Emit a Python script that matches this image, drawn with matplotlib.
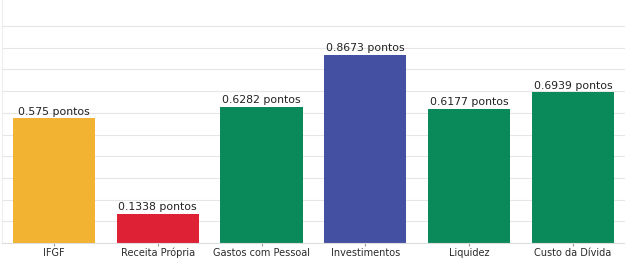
import matplotlib.pyplot as plt

categories = ["IFGF", "Receita Própria", "Gastos com Pessoal", "Investimentos", "Liquidez", "Custo da Dívida"]
values = [0.575, 0.1338, 0.6282, 0.8673, 0.6177, 0.6939]
labels = ["0.575 pontos", "0.1338 pontos", "0.6282 pontos", "0.8673 pontos", "0.6177 pontos", "0.6939 pontos"]
colors = ["#F2B232", "#DE2135", "#0A8A5A", "#4450A2", "#0A8A5A", "#0A8A5A"]

fig = plt.figure(figsize=(6.25, 2.6), dpi=100)
ax = fig.add_axes([0.003, 17 / 260, 0.997, 243 / 260])

x = range(len(categories))
ax.bar(x, values, width=0.79, color=colors, zorder=2)
for i, (v, lab) in enumerate(zip(values, labels)):
    ax.text(i, v + 0.008, lab, ha="center", va="bottom", fontsize=7.8,
            color="#222222", fontweight="medium", zorder=3)

ax.set_xlim(-0.5, len(categories) - 0.5)
ax.set_ylim(0, 1.12)
ax.set_yticks([i / 10 for i in range(1, 11)])
ax.set_yticklabels([])
ax.tick_params(axis="y", length=0)
ax.set_xticks(list(x))
ax.set_xticklabels(categories, fontsize=7.0, color="#2a2a2a")
ax.tick_params(axis="x", length=2, pad=1.5, color="#999999")
ax.grid(axis="y", color="#e6e6e6", linewidth=0.8, zorder=0)
for s in ["top", "right"]:
    ax.spines[s].set_visible(False)
ax.spines["left"].set_color("#eeeeee")
ax.spines["bottom"].set_color("#dddddd")

fig.savefig("out.png", dpi=100)
